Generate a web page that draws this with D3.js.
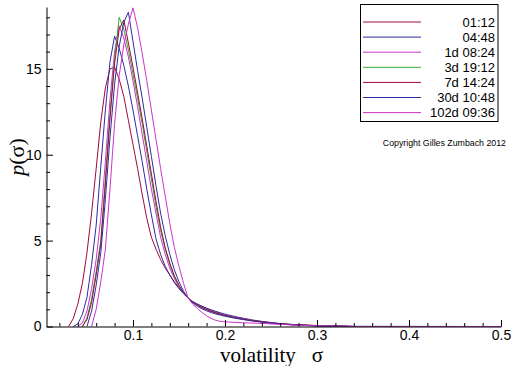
<!DOCTYPE html>
<html>
<head>
<meta charset="utf-8">
<script src="https://cdn.jsdelivr.net/npm/d3@7/dist/d3.min.js"></script>
<style>
  html, body { margin: 0; padding: 0; background: #fff; }
  svg { display: block; }
</style>
</head>
<body>
<svg id="chart" width="512" height="366"></svg>
<script>
// ---------- data ----------
const vol = [0.025,0.03,0.035,0.04,0.045,0.05,0.055,0.06,0.065,0.07,0.075,0.08,0.085,0.09,0.095,0.10,0.105,0.11,0.115,0.12,0.125,0.13,0.135,0.14,0.145,0.15,0.155,0.16,0.165,0.17,0.175,0.18,0.185,0.19,0.195,0.20,0.21,0.22,0.23,0.24,0.25,0.26,0.27,0.28,0.29,0.30,0.31,0.32,0.33,0.34,0.5];

const seriesNames = ["01:12","04:48","1d 08:24","3d 19:12","7d 14:24","30d 10:48","102d 09:36"];
const seriesColors = ["#a0083a","#2c2ca0","#cc33cc","#33aa33","#a0083a","#2c2ca0","#cc33cc"];

const p0112 = [null,0,0.45,1.3,2.5,4.3,6.6,9.2,11.9,13.9,15.0,15.1,14.4,13.4,12.0,10.6,9.2,7.7,6.3,5.2,4.5,3.9,3.4,3.0,2.6,2.25,1.95,1.65,1.45,1.3,1.17,1.05,0.94,0.84,0.75,0.66,0.53,0.43,0.34,0.26,0.2,0.15,0.11,0.08,0.06,0.04,0.03,0.02,0.01,0,0];
const p0448 = [null,null,0,0.15,0.7,1.7,3.6,5.9,9.3,12.6,15.4,16.9,16.2,15.2,14.0,12.6,11.1,9.6,8.0,6.5,5.1,4.2,3.5,3.0,2.55,2.2,1.9,1.65,1.45,1.3,1.18,1.07,0.97,0.88,0.8,0.72,0.59,0.48,0.38,0.3,0.23,0.17,0.13,0.1,0.07,0.05,0.04,0.03,0.02,0.01,0];
const p1d = [null,null,null,0,0.2,0.9,2.2,3.9,6.3,9.6,13.2,16.0,17.5,16.8,15.7,14.3,12.8,11.2,9.6,8.0,6.6,5.2,4.2,3.4,2.8,2.3,1.95,1.65,1.43,1.26,1.12,1.0,0.9,0.81,0.73,0.66,0.54,0.44,0.35,0.28,0.21,0.16,0.12,0.09,0.07,0.05,0.03,0.02,0.01,0,0];
const p3d = [null,null,null,null,0,0.5,1.6,3.2,5.0,8.6,12.4,15.6,18.0,17.3,16.1,14.7,13.3,11.8,10.2,8.6,7.0,5.6,4.5,3.6,2.9,2.35,1.95,1.65,1.42,1.24,1.1,0.98,0.88,0.79,0.71,0.64,0.52,0.42,0.34,0.27,0.21,0.16,0.12,0.09,0.06,0.04,0.03,0.02,0.01,0,0];
const p7d = [null,null,null,null,0,0.4,1.4,3.0,4.8,8.3,12.1,15.3,17.3,17.85,16.5,15.1,13.6,12.1,10.5,8.9,7.3,5.8,4.6,3.7,2.95,2.4,1.98,1.65,1.42,1.24,1.1,0.98,0.88,0.79,0.71,0.64,0.52,0.43,0.35,0.28,0.22,0.17,0.13,0.1,0.08,0.06,0.04,0.03,0.02,0,0];
const p30d = [null,null,null,null,null,0,0.9,2.4,4.3,7.4,11.0,14.1,16.3,17.7,18.3,16.6,14.9,13.3,11.6,9.9,8.2,6.6,5.3,4.2,3.3,2.6,2.05,1.65,1.38,1.18,1.03,0.91,0.81,0.73,0.66,0.6,0.49,0.4,0.32,0.26,0.2,0.15,0.11,0.08,0.06,0.04,0.03,0.02,0.01,0,0];
const p102d = [null,null,null,null,null,null,0,1.0,2.6,4.5,8.0,11.8,14.6,16.4,17.6,18.55,17.4,15.9,14.3,12.6,10.9,9.2,7.6,6.0,4.6,3.5,2.5,1.65,1.3,1.05,0.82,0.62,0.47,0.36,0.3,0.27,0.24,0.22,0.2,0.18,0.15,0.12,0.1,0.07,0.05,0.04,0.03,0.02,0.01,0,0];

const seriesValues = [p0112, p0448, p1d, p3d, p7d, p30d, p102d];

const xDomain = [0.006, 0.5];
const yDomain = [0, 18.6];
const xMajorTicks = [0.1, 0.2, 0.3, 0.4, 0.5];
const xMinorTicks = [0.02,0.04,0.06,0.08,0.12,0.14,0.16,0.18,0.22,0.24,0.26,0.28,0.32,0.34,0.36,0.38,0.42,0.44,0.46,0.48];
const yMajorTicks = [0, 5, 10, 15];
const yMinorTicks = [1,2,3,4,6,7,8,9,11,12,13,14,16,17,18];
const copyrightText = "Copyright Gilles Zumbach 2012";

// ---------- chart ----------
const svg = d3.select("#chart");
svg.append("rect").attr("width", 512).attr("height", 366).attr("fill", "#fff");

const x = d3.scaleLinear().domain(xDomain).range([46.5, 501]);
const y = d3.scaleLinear().domain(yDomain).range([326.5, 7]);

const lineGen = d3.line()
  .defined(d => d[1] != null)
  .x(d => x(d[0]))
  .y(d => y(d[1]));

const plot = svg.append("g");
seriesValues.forEach((vals, i) => {
  const pts = vol.map((v, j) => [v, vals[j]]);
  plot.append("path")
    .datum(pts)
    .attr("fill", "none")
    .attr("stroke", seriesColors[i])
    .attr("stroke-width", 1)
    .attr("stroke-linejoin", "round")
    .attr("d", lineGen);
});

const font = "'Liberation Sans', Arial, sans-serif";

// x axis
const gx = svg.append("g").attr("transform", `translate(0,${y(0)})`);
gx.call(d3.axisBottom(x).tickValues(xMajorTicks).tickSizeInner(-6.5).tickSizeOuter(0).tickPadding(3.5)
  .tickFormat(d3.format(".1f")));
gx.append("g").call(d3.axisBottom(x).tickValues(xMinorTicks).tickSizeInner(-3.5).tickSizeOuter(0).tickFormat(""))
  .select(".domain").remove();
gx.selectAll("text").attr("font-family", font).attr("font-size", 14).attr("fill", "#000");
gx.selectAll("line, path").attr("stroke", "#000");

// y axis
const gy = svg.append("g").attr("transform", `translate(${x(xDomain[0])},0)`);
gy.call(d3.axisLeft(y).tickValues(yMajorTicks).tickSizeInner(-6.5).tickSizeOuter(0).tickPadding(5)
  .tickFormat(d3.format("d")));
gy.append("g").call(d3.axisLeft(y).tickValues(yMinorTicks).tickSizeInner(-3.5).tickSizeOuter(0).tickFormat(""))
  .select(".domain").remove();
gy.selectAll("text").attr("font-family", font).attr("font-size", 14).attr("fill", "#000");
gy.selectAll("line, path").attr("stroke", "#000");

// axis titles
const xt = svg.append("text")
  .attr("x", 220).attr("y", 362)
  .attr("font-family", "'Liberation Serif', 'Times New Roman', serif")
  .attr("font-size", 21).attr("fill", "#000");
xt.append("tspan").text("volatility");
xt.append("tspan").attr("dx", 16).text("σ");

const yt = svg.append("text")
  .attr("transform", "translate(24,157) rotate(-90)")
  .attr("text-anchor", "middle")
  .attr("font-family", "'Liberation Serif', 'Times New Roman', serif")
  .attr("font-size", 22).attr("fill", "#000");
yt.append("tspan").attr("font-style", "italic").text("p");
yt.append("tspan").text("(σ)");

// legend
const lg = svg.append("g");
lg.append("rect").attr("x", 360.5).attr("y", 4.5).attr("width", 137.5).attr("height", 117)
  .attr("fill", "#fff").attr("stroke", "#000").attr("stroke-width", 1);
seriesNames.forEach((name, i) => {
  const yy = 22 + i * 15.1;
  lg.append("line").attr("x1", 363).attr("x2", 421).attr("y1", yy).attr("y2", yy)
    .attr("stroke", seriesColors[i]).attr("stroke-width", 1);
  lg.append("text").attr("x", 495).attr("y", yy + 4.5).attr("text-anchor", "end")
    .attr("font-family", font).attr("font-size", 13).attr("fill", "#000").text(name);
});

svg.append("text").attr("x", 506).attr("y", 146).attr("text-anchor", "end")
  .attr("font-family", font).attr("font-size", 8.8).attr("fill", "#000").text(copyrightText);
</script>
</body>
</html>
